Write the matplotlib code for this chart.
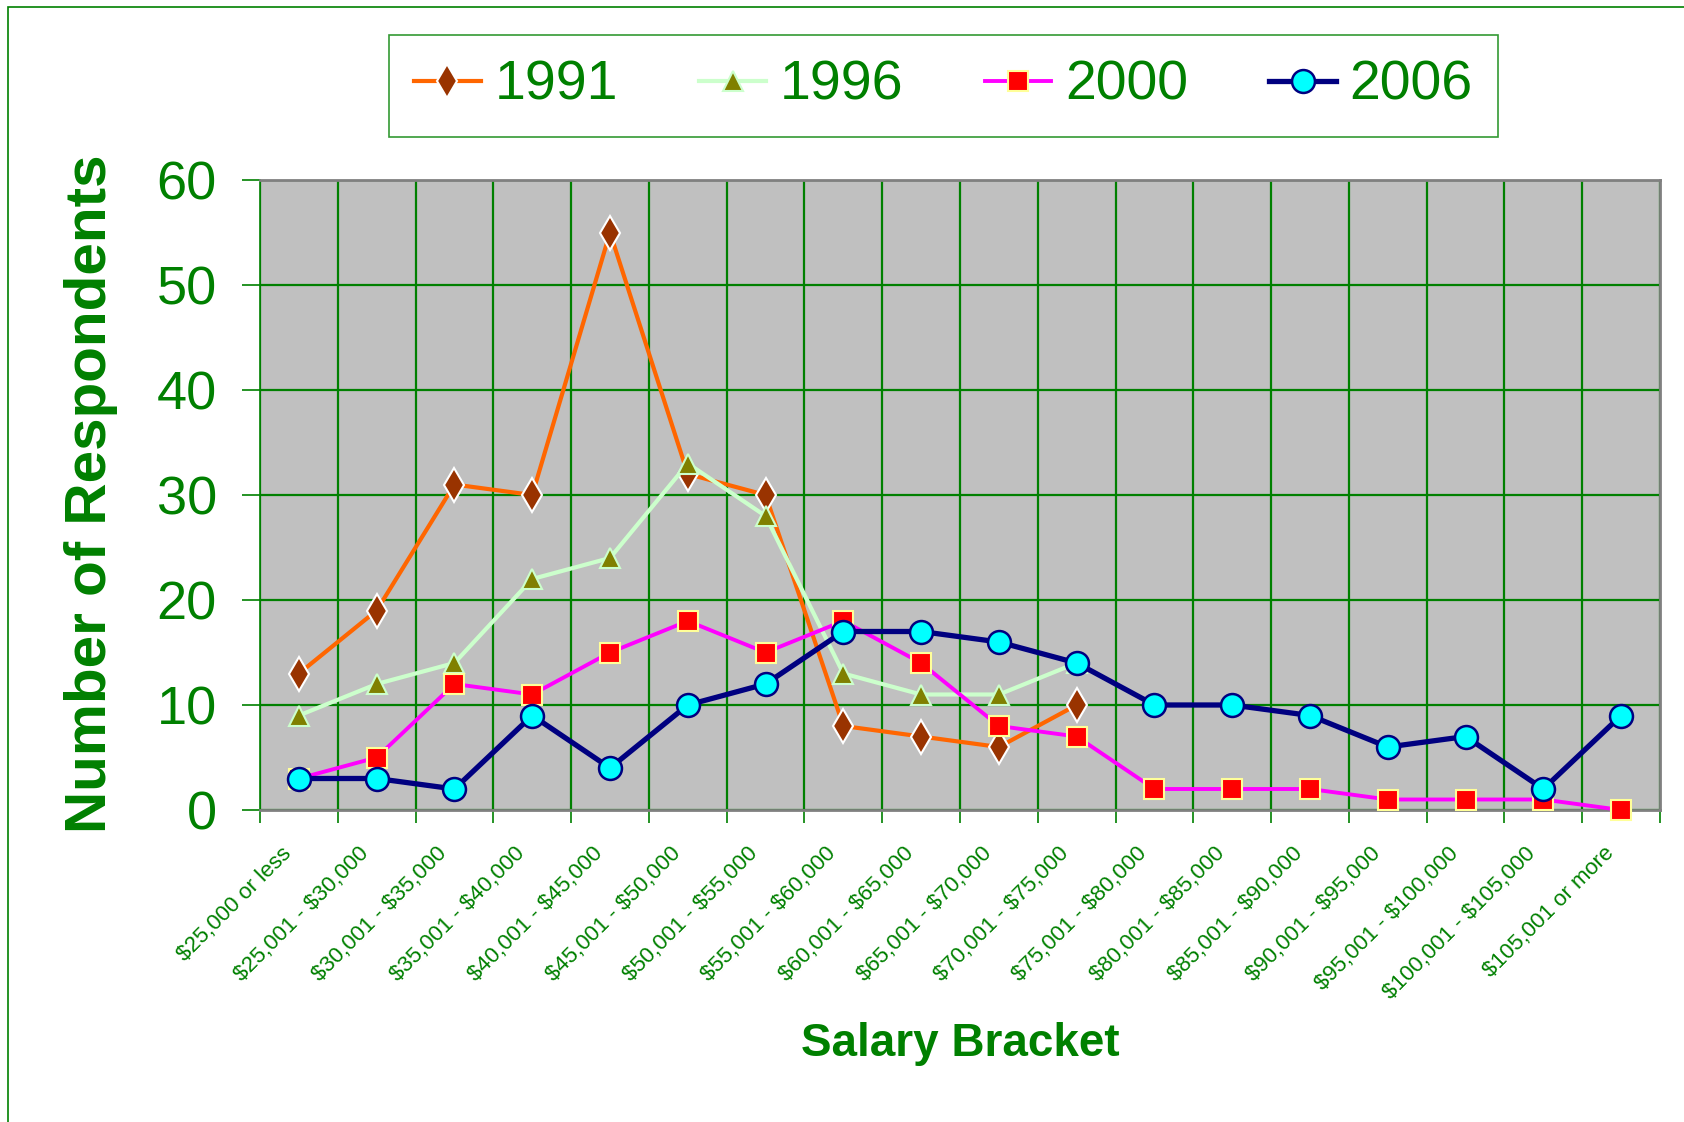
import numpy as np
import matplotlib
matplotlib.use("Agg")
import matplotlib.pyplot as plt
from matplotlib.patches import Rectangle
from matplotlib.transforms import ScaledTranslation

plt.rcParams['font.family'] = ['Liberation Sans', 'DejaVu Sans']

brackets = ['$25,000 or less', '$25,001 - $30,000', '$30,001 - $35,000',
            '$35,001 - $40,000', '$40,001 - $45,000', '$45,001 - $50,000',
            '$50,001 - $55,000', '$55,001 - $60,000', '$60,001 - $65,000',
            '$65,001 - $70,000', '$70,001 - $75,000', '$75,001 - $80,000',
            '$80,001 - $85,000', '$85,001 - $90,000', '$90,001 - $95,000',
            '$95,001 - $100,000', '$100,001 - $105,000', '$105,001 or more']

# 1991 and 1996 surveys stop at the $75k bracket
y1991 = [13, 19, 31, 30, 55, 32, 30, 8, 7, 6, 10]
y1996 = [9, 12, 14, 22, 24, 33, 28, 13, 11, 11, 14]
y2000 = [3, 5, 12, 11, 15, 18, 15, 18, 14, 8, 7, 2, 2, 2, 1, 1, 1, 0]
y2006 = [3, 3, 2, 9, 4, 10, 12, 17, 17, 16, 14, 10, 10, 9, 6, 7, 2, 9]

green = '#008000'
W, H = 1684, 1122

fig = plt.figure(figsize=(W / 100, H / 100), dpi=100)
fig.patch.set_facecolor('white')

# outer chart frame (only left/top visible in the original)
fig.add_artist(Rectangle((8 / W, -0.1), 1.2, 1.1 - 7 / H, transform=fig.transFigure,
                         fill=False, edgecolor=green, lw=1.2))

ax = fig.add_axes([260 / W, (H - 810) / H, 1400 / W, 630 / H])
ax.set_facecolor('#C0C0C0')

n = len(brackets)
x = np.arange(n)

ax.plot(x[:len(y1991)], y1991, color='#FF6600', lw=3, marker='d', ms=17,
        mfc='#993300', mec='white', mew=1.5, label='1991', clip_on=False, zorder=3)
ax.plot(x[:len(y1996)], y1996, color='#CCFFCC', lw=3, marker='^', ms=15,
        mfc='#808000', mec='#CCFFCC', mew=1.5, label='1996', clip_on=False, zorder=4)
ax.plot(x, y2000, color='#FF00FF', lw=2.8, marker='s', ms=15,
        mfc='#FF0000', mec='#FFFF99', mew=1.5, label='2000', clip_on=False, zorder=5)
ax.plot(x, y2006, color='#000080', lw=3.8, marker='o', ms=16.5,
        mfc='#00FFFF', mec='#000080', mew=1.8, label='2006', clip_on=False, zorder=6)

ax.set_xlim(-0.5, n - 0.5)
ax.set_ylim(0, 60)
ax.set_yticks(range(0, 61, 10))

# category labels: rotated, top-right corner a little left of the category centre
ax.set_xticks(np.arange(-0.5, n, 1.0))
ax.set_xticklabels([])
lab_tr = ax.get_xaxis_transform() + ScaledTranslation(-18 / 100, -33 / 100, fig.dpi_scale_trans)
for xi, b in zip(x, brackets):
    ax.text(xi, 0, b, transform=lab_tr, rotation=45, ha='right', va='top',
            rotation_mode='anchor', fontsize=16, color=green, parse_math=False)

ax.tick_params(axis='x', length=9, color=green, width=1.2)
ax.tick_params(axis='y', length=13, color=green, width=1.2, labelsize=39,
               labelcolor=green, pad=18)

ax.grid(axis='both', color=green, lw=1.6)
ax.set_axisbelow(True)

for s in ['top', 'right', 'bottom']:
    ax.spines[s].set_color('#808080')
    ax.spines[s].set_linewidth(2)
ax.spines['left'].set_color(green)
ax.spines['left'].set_linewidth(1.2)

fig.text(91 / W, 1 - 494 / H, 'Number of Respondents', rotation=90, ha='center',
         va='center', fontsize=42, fontweight='bold', color=green)
fig.text(960 / W, 1 - 1044 / H, 'Salary Bracket', ha='center', va='center',
         fontsize=33, fontweight='bold', color=green)

leg = fig.legend(loc='lower left', ncol=4, mode='expand', borderaxespad=0,
                 bbox_to_anchor=(389 / W, 1 - 137 / H, (1498 - 389) / W, 104 / H),
                 fontsize=40, handlelength=1.2, handletextpad=0.25,
                 frameon=True, fancybox=False, borderpad=0.45, labelcolor=green)
leg.get_frame().set_edgecolor(green)
leg.get_frame().set_linewidth(1.2)

fig.savefig('out.png', dpi=100)
